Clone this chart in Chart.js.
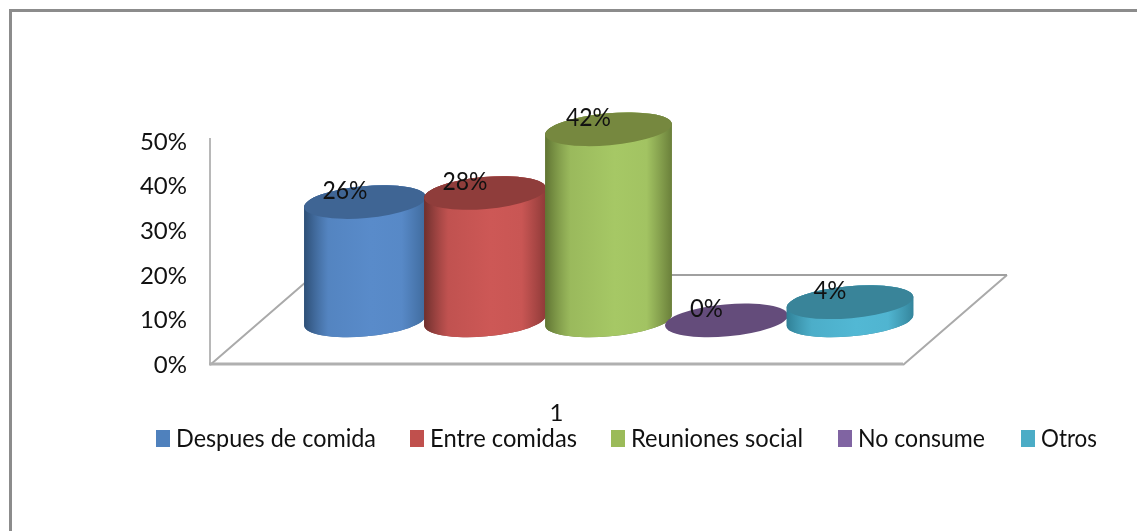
<!DOCTYPE html>
<html><head><meta charset="utf-8">
<style>html,body{margin:0;padding:0;background:#fff}#w{width:1137px;height:531px}</style>
<script src="https://cdn.jsdelivr.net/npm/chart.js@4"></script>
</head><body><div id="w"><canvas id="c"></canvas></div>
<script>
const categories = ["1"];
const seriesNames = ["Despues de comida","Entre comidas","Reuniones social","No consume","Otros"];
const seriesValues = [26,28,42,0,4];
const yTicks = [0,10,20,30,40,50];
const legendColors = ["#4f81bd","#c0504d","#9bbb59","#8064a2","#4bacc6"];
const sideDark = ["#2d4e75","#6d2f2d","#5f7332","#4c3a63","#2f7f95"];
const sideLight = ["#598bca","#cd5856","#a6c865","#7a5f9c","#52b8d4"];
const sideDark2 = ["#3f6a9c","#8e3a38","#6a7f3a","#4c3a63","#34859c"];
const topColors = ["#3f6594","#8f3d3b","#76883f","#644c7b","#398499"];
const barWidths = [1.01,1.01,1.05,1.02,1.05];
const perspectiveNudge = [0,-1,1.5,-1.5,1];
const legendStarts = [156,410,611,838,1021];
const legendTextWidths = [200,147,172,127,56];

const FONT = "Lato,sans-serif";
const FSIZE = 24, FSIZE_TALL = 25;
const TEXT = "#111";
const DEPTH_X = 50.5, RY = 16, ROT = -5*Math.PI/180;

const scene = {
  id:'scene',
  beforeDatasetsDraw(chart){
    const c = chart.ctx, a = chart.chartArea;
    c.save();
    c.fillStyle = "#8c8c8c";
    c.fillRect(9,9,1128,3);
    c.fillRect(9,9,3,522);
    const backY = a.bottom-90, dxBack = 104;
    c.lineCap='butt';
    c.strokeStyle="#aaaaaa"; c.lineWidth=2;
    c.beginPath(); c.moveTo(a.left,a.bottom); c.lineTo(a.left+dxBack,backY);
    c.moveTo(a.right,a.bottom); c.lineTo(a.right+dxBack,backY); c.stroke();
    c.strokeStyle="#a0a0a0"; c.lineWidth=2;
    c.beginPath(); c.moveTo(a.left+dxBack,backY); c.lineTo(a.right+dxBack,backY); c.stroke();
    c.strokeStyle="#b8b8b8"; c.lineWidth=2;
    c.beginPath(); c.moveTo(a.left,a.top-4); c.lineTo(a.left,a.bottom); c.stroke();
    c.strokeStyle="#b0b0b0"; c.lineWidth=3;
    c.beginPath(); c.moveTo(a.left-1,a.bottom-1); c.lineTo(a.right,a.bottom-1); c.stroke();
    chart.data.datasets.forEach((ds,i)=>{
      const el = chart.getDatasetMeta(i).data[0];
      const cx = el.x+DEPTH_X+perspectiveNudge[i], rx = el.width/2, yT = el.y, yB = el.base;
      if (yB-yT>0.5){
        const g = c.createLinearGradient(cx-rx,0,cx+rx,0);
        g.addColorStop(0,sideDark[i]); g.addColorStop(0.2,sideLight[i]+"cc");
        g.addColorStop(0.55,sideLight[i]); g.addColorStop(0.8,sideLight[i]+"ee"); g.addColorStop(1,sideDark2[i]);
        const path=()=>{c.beginPath();
          c.ellipse(cx,yB,rx,RY,ROT,Math.PI,0,true);
          c.ellipse(cx,yT,rx,RY,ROT,0,Math.PI,true);
          c.closePath();};
        path(); c.fillStyle=sideDark2[i]; c.fill();
        path(); c.fillStyle=g; c.fill();
      }
      c.beginPath(); c.ellipse(cx,yT,rx,RY,ROT,0,2*Math.PI);
      c.fillStyle=topColors[i]; c.fill();
    });
    c.restore();
  },
  afterDatasetsDraw(chart){
    const c = chart.ctx;
    c.save();
    c.font = FSIZE_TALL+"px "+FONT; c.fillStyle=TEXT; c.textAlign="center"; c.textBaseline="middle";
    chart.data.datasets.forEach((ds,i)=>{
      const el = chart.getDatasetMeta(i).data[0];
      c.fillText(ds.data[0]+"%", el.x+DEPTH_X+perspectiveNudge[i]-20, el.y-11, ds.data[0]<10?33:45);
    });
    c.textAlign="left";
    seriesNames.forEach((n,i)=>{
      const x = legendStarts[i];
      c.fillStyle=legendColors[i]; c.fillRect(x,430,14,17);
      c.fillStyle=TEXT; c.fillText(n,x+20,439,legendTextWidths[i]);
    });
    c.restore();
  }
};

new Chart(document.getElementById('c'),{
  type:'bar',
  data:{labels:categories,
    datasets:seriesNames.map((n,i)=>({label:n,data:[seriesValues[i]],yAxisID:'y1',xAxisID:'x',
      backgroundColor:'rgba(0,0,0,0)',borderWidth:0,categoryPercentage:0.873,barPercentage:barWidths[i]}))},
  plugins:[scene],
  options:{responsive:true,maintainAspectRatio:false,animation:false,
    layout:{padding:{top:142,right:234,left:0,bottom:66}},
    plugins:{legend:{display:false},tooltip:{enabled:false},title:{display:false}},
    scales:{
      x:{grid:{display:false},border:{display:false},
        afterFit:s=>{s.height=100;},
        ticks:{padding:26,color:TEXT,font:{family:FONT,size:FSIZE}}},
      y:{position:'left',min:0,max:50,grid:{display:false},border:{display:false},
        afterFit:s=>{s.width=210;},
        afterBuildTicks:s=>{s.ticks=yTicks.map(v=>({value:v}));},
        ticks:{padding:15,color:TEXT,font:{family:FONT,size:FSIZE},callback:v=>v+"%"}},
      y1:{display:false,position:'left',min:-9.8,max:39.2,grid:{display:false}}
    }}
});
</script></body></html>
